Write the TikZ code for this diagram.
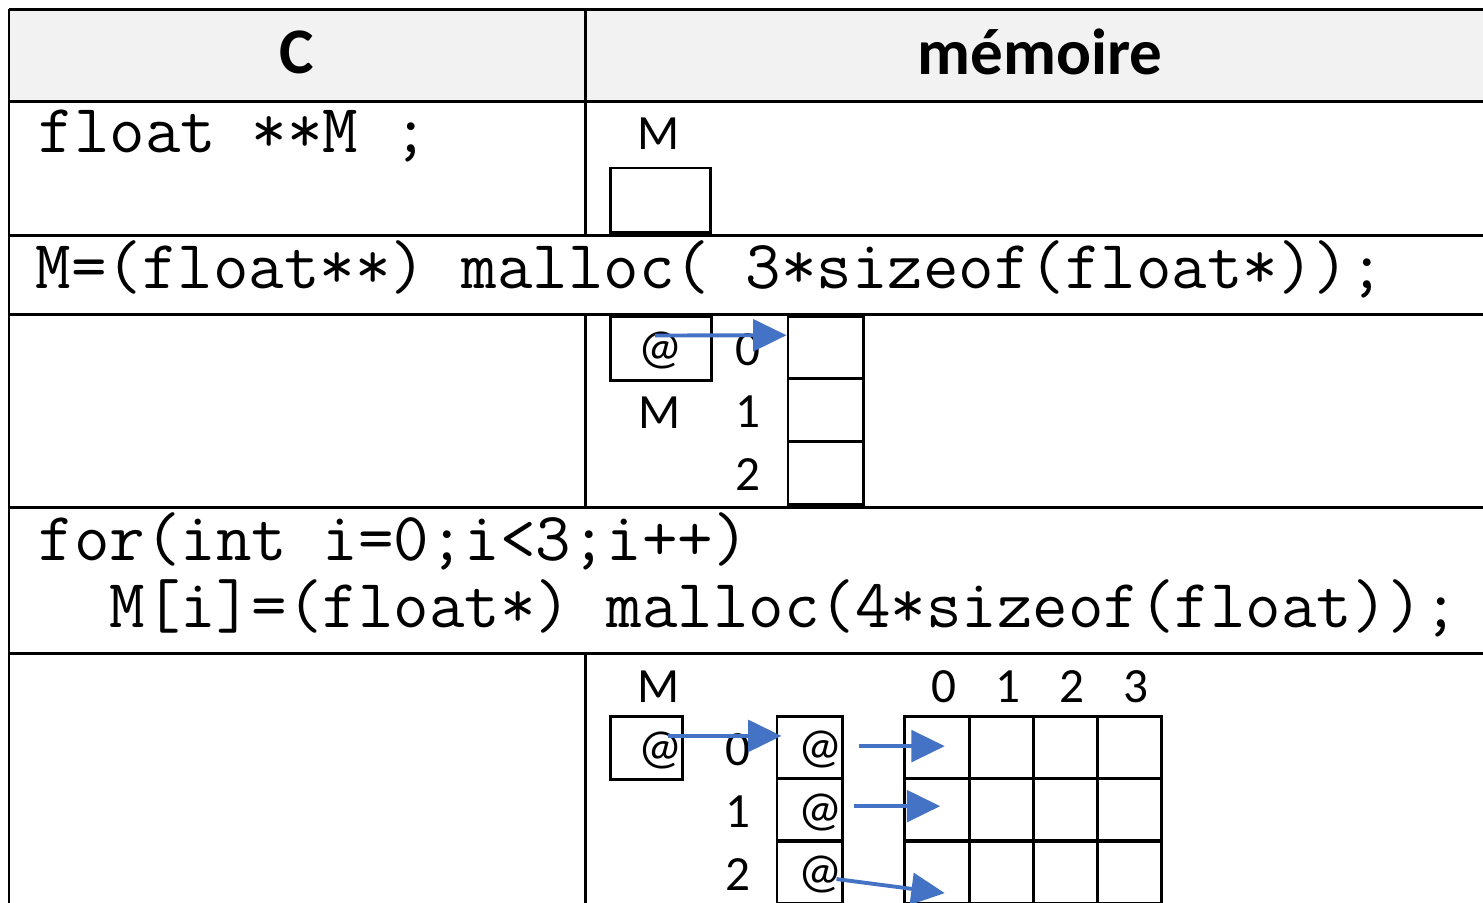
\documentclass[tikz,border=0pt]{standalone}
\usepackage{fontspec}
\newfontfamily\calibri{Carlito}
\usetikzlibrary{arrows.meta}
\definecolor{ptrblue}{HTML}{4472C4}
\definecolor{headgray}{HTML}{F2F2F2}

\begin{document}
\begin{tikzpicture}[x=0.01cm,y=-0.01cm,
  rule/.style={line width=0.85pt},
  cell/.style={draw,line width=0.85pt,inner sep=0pt},
  lbl/.style={font=\calibri\fontsize{14}{14}\selectfont,inner sep=0pt},
  head/.style={font=\calibri\bfseries\fontsize{18.5}{18.5}\selectfont,inner sep=0pt},
  code/.style={font=\ttfamily\fontsize{19.6}{19.6}\selectfont,inner sep=0pt,anchor=base west},
  ptr/.style={draw=ptrblue,line width=1.1pt,-{Triangle[length=9.5pt,width=9pt]}}]
  \path[use as bounding box,clip] (0,0) rectangle (1483,902);
  % table frame
  \fill[headgray] (9,9) rectangle (1500,101);
  \foreach \y in {9,101,235,314,507,653}
    \draw[rule] (9,\y) -- (1500,\y);
  \draw[rule] (9,9) -- (9,920);
  \draw[rule] (585,9) -- (585,235);
  \draw[rule] (585,314) -- (585,507);
  \draw[rule] (585,653) -- (585,920);
  \node[head] (hC) at (297,52) {C};
  \node[head] (hmem) at (1040,52) {mémoire};
  % code lines
  \node[code] (decl) at (38,152) {float **M ;};
  \node[code] (alloc) at (35,288) {M=(float**) malloc( 3*sizeof(float*));};
  \node[code] (loop) at (38,560) {for(int i=0;i<3;i++)};
  \node[code] (body) at (38,627) {\hphantom{xx}M[i]=(float*) malloc(4*sizeof(float));};
  % float **M
  \node[lbl] (lM1) at (659,134) {M};
  \node[cell,minimum width=0.99cm,minimum height=0.64cm] (pM1) at (660.5,200) {};
  % M points to 3 pointers
  \node[cell,minimum width=1cm,minimum height=0.63cm] (pM2) at (661,348.5) {};
  \node[lbl] (at2) at (660,350) {@};
  \node[lbl] (lM2) at (660,413) {M};
  \foreach \i/\yy in {0/347.5,1/410,2/473} {
    \node[cell,minimum width=0.75cm,minimum height=0.625cm] (t\i) at (825.5,\yy) {};
    \node[lbl] (it\i) at (748,\yy+2) {\i};
  }
  \draw[ptr] ([xshift=-1.7pt,yshift=3.7pt]pM2.center) -- ([yshift=3.5pt]t0.west);
  % each pointer gets 4 floats
  \node[lbl] (lM3) at (659,687) {M};
  \node[cell,minimum width=0.71cm,minimum height=0.63cm] (pM3) at (646.5,747.5) {};
  \node[lbl] (at3) at (660,750) {@};
  \foreach \i/\yy in {0/747.5,1/810,2/872} {
    \node[cell,minimum width=0.65cm,minimum height=0.625cm] (c\i) at (809.5,\yy) {};
    \node[lbl,anchor=east] (ac\i) at (843,\yy+2) {@};
    \node[lbl] (ic\i) at (738,\yy+2) {\i};
    \foreach \c in {0,...,3}
      \node[cell,minimum width=0.6425cm,minimum height=0.625cm] (m\i\c) at (937+64.25*\c,\yy) {};
  }
  \foreach \c in {0,...,3}
    \node[lbl] (jc\c) at (944+64*\c,687) {\c};
  \draw[ptr] ([xshift=6.1pt,yshift=3.3pt]pM3.center) -- ([xshift=1.7pt,yshift=3.3pt]c0.west);
  \draw[ptr] ([xshift=4.5pt,yshift=0.4pt]c0.east) -- ([xshift=2.2pt,yshift=0.4pt]m00.center);
  \draw[ptr] ([xshift=3.1pt,yshift=1.1pt]c1.east) -- ([xshift=0.9pt,yshift=1.1pt]m10.center);
  \draw[ptr] ([xshift=-2pt,yshift=-2pt]c2.east) -- ([xshift=2.2pt,yshift=-6pt]m20.center);
\end{tikzpicture}
\end{document}
